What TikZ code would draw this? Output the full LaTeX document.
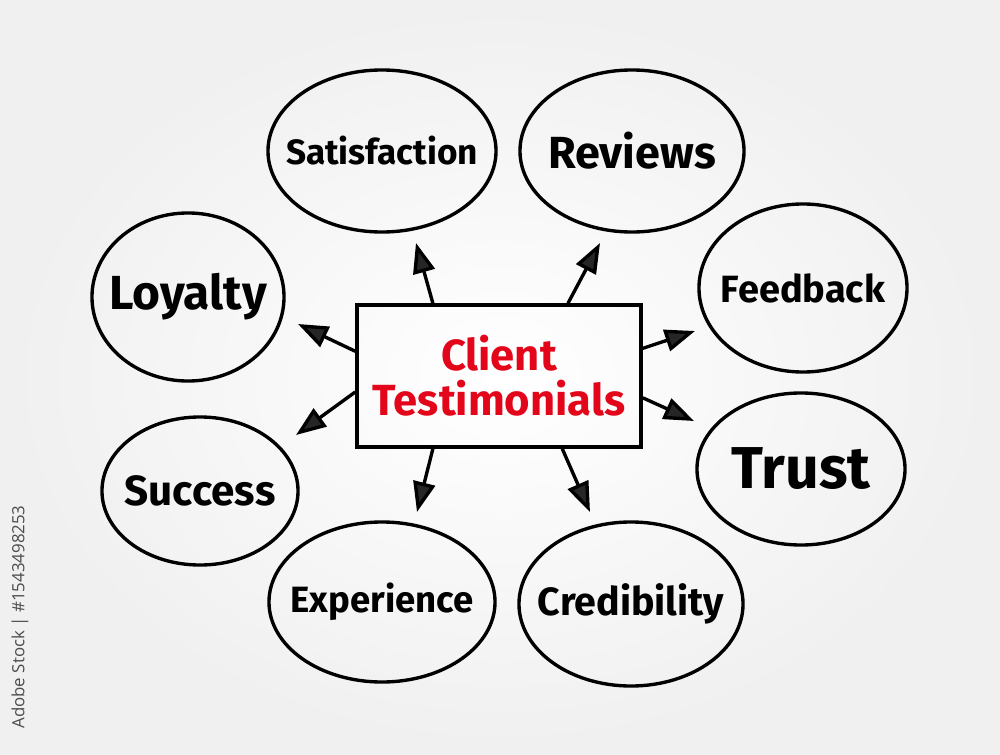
\documentclass[tikz,border=0pt]{standalone}
\usepackage{fontspec}
\setmainfont{Fira Sans}
\newfontfamily\markfont{Open Sans}
\usetikzlibrary{arrows.meta,calc,shapes.geometric}
\definecolor{hotred}{HTML}{E3061B}
\tikzset{
  topic/.style = {draw, line width=2.4pt, rectangle, minimum width=7.1cm,
                  minimum height=3.55cm, align=center, text=hotred,
                  font=\bfseries\fontsize{31}{32}\selectfont},
  idea/.style  = {draw, line width=2.4pt, ellipse, inner sep=0pt},
  word/.style n args = {2}{label={[font=\bfseries\fontsize{#1}{#1}\selectfont]center:#2}},
  sig/.style   = {-{Triangle[length=7.5mm,width=5.5mm,fill=black!85]}, line width=2.4pt},
}

\begin{document}
\begin{tikzpicture}[x=0.025cm,y=-0.025cm]
\shade[inner color=white,outer color=black!6] (0,0) rectangle (1000,755);
\useasboundingbox (0,0) rectangle (1000,755);
% centre
\node[topic] (client) at (499,376) {Client\\Testimonials};
% ideas
\node[idea,minimum width=5.7cm,minimum height=4.05cm,word={25}{Satisfaction}] (sat) at (382,151) {};
\node[idea,minimum width=5.6cm,minimum height=4.05cm,word={32}{Reviews}] (rev) at (632,151) {};
\node[idea,minimum width=4.8cm,minimum height=4.2cm,word={34}{Loyalty}] (loy) at (188,297) {};
\node[idea,minimum width=5.2cm,minimum height=4.2cm,word={27}{Feedback}] (fee) at (803,288) {};
\node[idea,minimum width=4.9cm,minimum height=3.7cm,word={30}{Success}] (suc) at (200,491) {};
\node[idea,minimum width=5.2cm,minimum height=3.8cm,word={42}{Trust}] (tru) at (801,469) {};
\node[idea,minimum width=5.65cm,minimum height=4.0cm,word={26}{Experience}] (exp) at (382,602) {};
\node[idea,minimum width=5.6cm,minimum height=4.1cm,word={28}{Credibility}] (cre) at (631,604) {};
% arrow tips
\coordinate (tSat) at (416,243);
\coordinate (tRev) at (600,243);
\coordinate (tLoy) at (298,324);
\coordinate (tFee) at (695,331);
\coordinate (tSuc) at (296,435);
\coordinate (tTru) at (694,421);
\coordinate (tExp) at (417,512);
\coordinate (tCre) at (590,512);
\draw[sig] ($(client.north west)!0.27!(client.north east)$) -- (tSat);
\draw[sig] ($(client.north west)!0.74!(client.north east)$) -- (tRev);
\draw[sig] ($(client.north west)!0.33!(client.south west)$) -- (tLoy);
\draw[sig] ($(client.north east)!0.31!(client.south east)$) -- (tFee);
\draw[sig] ($(client.north west)!0.61!(client.south west)$) -- (tSuc);
\draw[sig] ($(client.north east)!0.65!(client.south east)$) -- (tTru);
\draw[sig] ($(client.south west)!0.27!(client.south east)$) -- (tExp);
\draw[sig] ($(client.south west)!0.72!(client.south east)$) -- (tCre);
% stock mark
\node[rotate=90,text=black!70,font=\markfont\fontsize{12}{14}\selectfont] (mark) at (20,617) {Adobe Stock | \#1543498253};
\end{tikzpicture}
\end{document}
